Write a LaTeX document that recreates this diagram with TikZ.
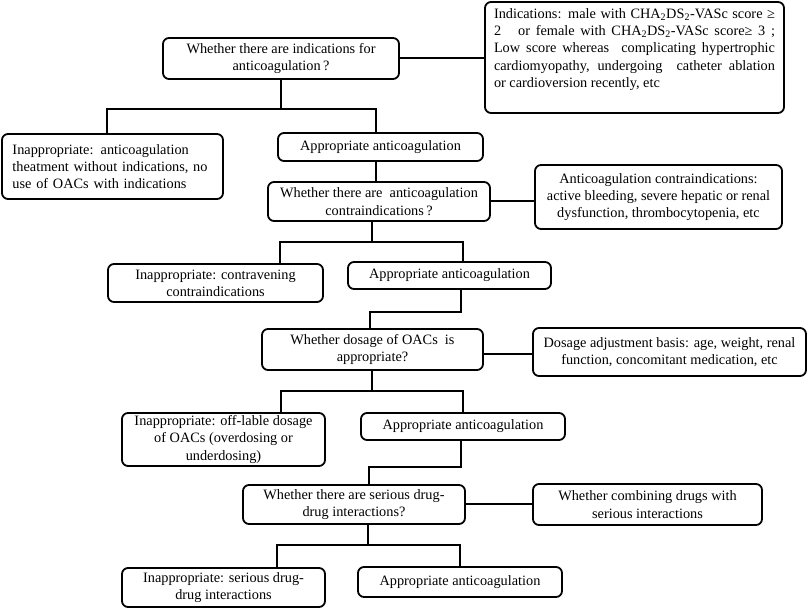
\documentclass[tikz,border=0pt]{standalone}
\usepackage{fontspec}
\setmainfont{Liberation Serif}
\newcommand\myfs{\fontsize{14.3}{17.3}\selectfont}
\begin{document}
\begin{tikzpicture}[x=1pt,y=-1pt,
  box/.style={draw, line width=1.8pt, rounded corners=6pt, inner sep=0pt, align=center, font=\myfs},
  link/.style={line width=1.8pt}]
\useasboundingbox (0,0) rectangle (809,609);
% nodes
\node[box, minimum width=236pt, minimum height=41pt] (Q1) at (281,58.5) {Whether there are indications for\\anticoagulation\,?};
\node[box, minimum width=299pt, minimum height=111pt] (I) at (634.5,57.5) {\raisebox{8pt}[\height][\depth]{\parbox{281pt}{\myfs
\makebox[\linewidth][s]{Indications: male with CHA\textsubscript{2}DS\textsubscript{2}-VASc score ≥}\\
\makebox[\linewidth][s]{2\ \ \ or female with CHA\textsubscript{2}DS\textsubscript{2}-VASc score≥ 3 ;}\\
\makebox[\linewidth][s]{Low score whereas\ \ complicating hypertrophic}\\
\makebox[\linewidth][s]{cardiomyopathy, undergoing\ \ catheter ablation}\\
or cardioversion recently, etc}}};
\node[box, minimum width=221pt, minimum height=65pt, text width=200pt, align=left] (L1) at (112.5,166.5) {Inappropriate: anticoagulation\\theatment without indications, no\\use of OACs with indications};
\node[box, minimum width=205pt, minimum height=28pt] (A1) at (380.5,147) {Appropriate anticoagulation};
\node[box, minimum width=222pt, minimum height=39pt] (Q2) at (379,201.5) {Whether there are\ \ anticoagulation\\contraindications\,?};
\node[box, minimum width=247pt, minimum height=64pt] (C) at (658.5,197) {Anticoagulation contraindications:\\active bleeding, severe hepatic or renal\\dysfunction, thrombocytopenia, etc};
\node[box, minimum width=215pt, minimum height=38pt] (L2) at (215.5,283) {Inappropriate: contravening\\contraindications};
\node[box, minimum width=203pt, minimum height=27pt] (A2) at (449.5,275.5) {Appropriate anticoagulation};
\node[box, minimum width=221pt, minimum height=41pt] (Q3) at (372.5,349.5) {Whether dosage of OACs\ \ is\\appropriate?};
\node[box, minimum width=273pt, minimum height=48pt] (D) at (669.5,352) {Dosage adjustment basis: age, weight, renal\\function, concomitant medication, etc};
\node[box, minimum width=203pt, minimum height=53pt] (L3) at (223.5,439.5) {Inappropriate: off-lable dosage\\of OACs (overdosing or\\underdosing)};
\node[box, minimum width=204pt, minimum height=27pt] (A3) at (463,426.5) {Appropriate anticoagulation};
\node[box, minimum width=222pt, minimum height=39pt] (Q4) at (354,504.5) {Whether there are serious drug-\\drug interactions?};
\node[box, minimum width=229pt, minimum height=41pt] (K) at (647.5,504.5) {Whether combining drugs with\\serious interactions};
\node[box, minimum width=203pt, minimum height=39pt] (L4) at (223.5,587.5) {Inappropriate: serious drug-\\drug interactions};
\node[box, minimum width=204pt, minimum height=30pt] (A4) at (460,582) {Appropriate anticoagulation};
% connectors
\coordinate (b1) at (281,109);
\coordinate (b2) at (372,242);
\coordinate (b4) at (372,391);
\coordinate (b5) at (368,545);
\draw[link] ([yshift=0.5pt]Q1.east) -- ([yshift=0.5pt]Q1.east -| I.west);
\draw[link] (Q1.south) -- (b1);
\draw[link] ([xshift=-5.5pt]L1.north) |- (b1) -| ([xshift=-4.5pt]A1.north);
\draw[link] ([xshift=-4.5pt]A1.south) -- ([xshift=-4.5pt]A1.south |- Q2.north);
\draw[link] ([yshift=0.5pt]Q2.east) -- ([yshift=0.5pt]Q2.east -| C.west);
\draw[link] ([xshift=-7pt]Q2.south) -- (b2);
\draw[link] ([xshift=64.5pt]L2.north) |- (b2) -| ([xshift=13.5pt]A2.north);
\draw[link] ([xshift=11.5pt]A2.south) -- ++(0,22) -| ([xshift=-2.5pt]Q3.north);
\draw[link] ([yshift=-4.5pt]Q3.east) -- ([yshift=-4.5pt]Q3.east -| D.west);
\draw[link] ([xshift=-0.5pt]Q3.south) -- (b4);
\draw[link] ([xshift=57.5pt]L3.north) |- (b4) -| (A3.north);
\draw[link] ([xshift=-2pt]A3.south) -- ++(0,26) -| ([xshift=15pt]Q4.north);
\draw[link] ([yshift=0.5pt]Q4.east) -- ([yshift=0.5pt]Q4.east -| K.west);
\draw[link] ([xshift=14pt]Q4.south) -- (b5);
\draw[link] ([xshift=53.5pt]L4.north) |- (b5) -| (A4.north);
\end{tikzpicture}
\end{document}
